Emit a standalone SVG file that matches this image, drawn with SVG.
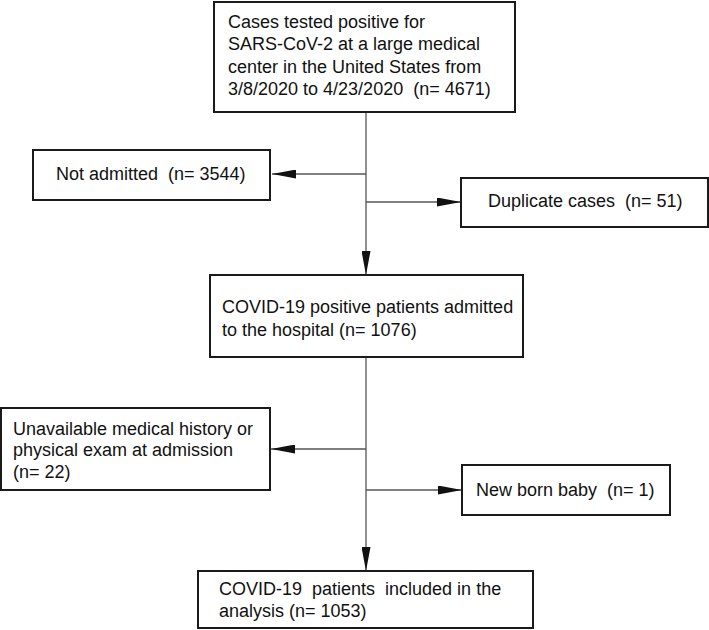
<svg xmlns="http://www.w3.org/2000/svg" width="709" height="630" viewBox="0 0 709 630">
<defs>
<marker id="ah" viewBox="0 0 24 9" refX="24" refY="4.5" markerWidth="24" markerHeight="9" markerUnits="userSpaceOnUse" orient="auto">
<path d="M0,0 L24,4.5 L0,9 z" fill="#111"/>
</marker>
<style>
.box{fill:#fff;stroke:#1a1a1a;stroke-width:2}
.t{font-family:"Liberation Sans",Arial,sans-serif;font-size:18px;fill:#111;white-space:pre}
.c{fill:none;stroke:#555;stroke-width:1.3}
</style>
</defs>
<rect width="709" height="630" fill="#fff"/>
<g id="connectors">
<line class="c" x1="366" y1="112" x2="366" y2="275" marker-end="url(#ah)"/>
<line class="c" x1="366" y1="174" x2="272" y2="174" marker-end="url(#ah)"/>
<line class="c" x1="366" y1="202" x2="461" y2="202" marker-end="url(#ah)"/>
<line class="c" x1="366" y1="357" x2="366" y2="571" marker-end="url(#ah)"/>
<line class="c" x1="366" y1="449" x2="271" y2="449" marker-end="url(#ah)"/>
<line class="c" x1="366" y1="490" x2="462" y2="490" marker-end="url(#ah)"/>
</g>
<g id="n1">
<rect class="box" x="214" y="2" width="301" height="110"/>
<text class="t" x="228" y="28">Cases tested positive for</text>
<text class="t" x="228" y="50">SARS-CoV-2 at a large medical</text>
<text class="t" x="228" y="73">center in the United States from</text>
<text class="t" x="228" y="95">3/8/2020 to 4/23/2020  (n= 4671)</text>
</g>
<g id="n2">
<rect class="box" x="33" y="150" width="237" height="50"/>
<text class="t" x="56" y="180">Not admitted  (n= 3544)</text>
</g>
<g id="n3">
<rect class="box" x="461" y="178" width="247" height="49"/>
<text class="t" x="488" y="207">Duplicate cases  (n= 51)</text>
</g>
<g id="n4">
<rect class="box" x="210" y="275" width="313" height="82"/>
<text class="t" x="222" y="313">COVID-19 positive patients admitted</text>
<text class="t" x="222" y="336">to the hospital (n= 1076)</text>
</g>
<g id="n5">
<rect class="box" x="1" y="408" width="269" height="82"/>
<text class="t" x="13" y="435">Unavailable medical history or</text>
<text class="t" x="13" y="456">physical exam at admission</text>
<text class="t" x="13" y="478">(n= 22)</text>
</g>
<g id="n6">
<rect class="box" x="462" y="465" width="208" height="50"/>
<text class="t" x="476" y="496">New born baby  (n= 1)</text>
</g>
<g id="n7">
<rect class="box" x="198" y="571" width="335" height="57"/>
<text class="t" x="219" y="595">COVID-19  patients  included in the</text>
<text class="t" x="219" y="617">analysis (n= 1053)</text>
</g>
</svg>
